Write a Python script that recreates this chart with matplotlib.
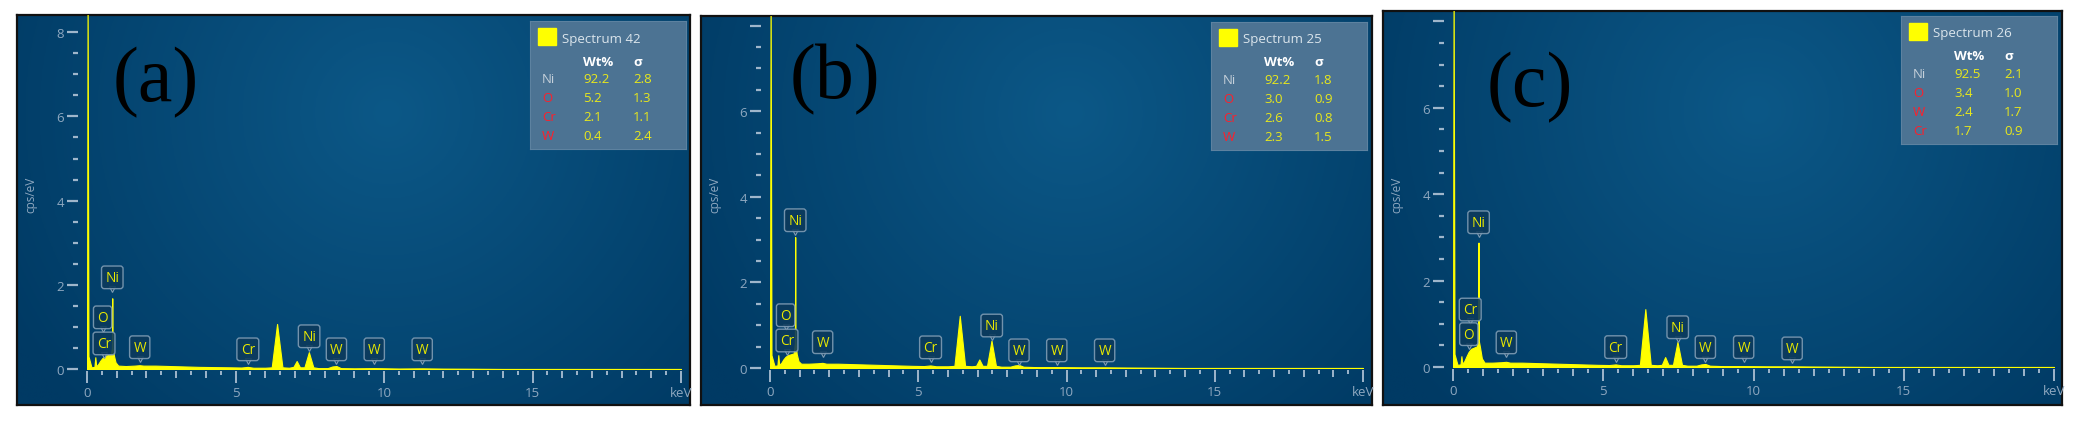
import numpy as np
import matplotlib
matplotlib.use("Agg")
import matplotlib.pyplot as plt
from matplotlib.ticker import FixedLocator, MultipleLocator, FuncFormatter
from matplotlib.patches import Rectangle

# spectrum vertices (keV, cps/eV)
energy_kev = [0.0, 0.02, 0.05, 0.15, 0.25, 0.28, 0.31, 0.38, 0.45, 0.52, 0.6, 0.7, 0.8,
              0.84, 0.85, 0.86, 0.9, 0.96, 1.05, 1.3, 1.6, 1.77, 1.9, 2.3, 2.8, 3.3, 3.8,
              4.3, 4.8, 5.2, 5.41, 5.6, 6.0, 6.22, 6.4, 6.58, 6.8, 6.95, 7.06, 7.17, 7.32,
              7.47, 7.62, 7.8, 8.1, 8.26, 8.4, 8.55, 9.0, 9.67, 10.5, 11.29, 12.0, 13.0,
              14.0, 20.0]
counts_a = [0, 9.0, 0.3, 0.04, 0.05, 0.28, 0.06, 0.12, 0.2, 0.26, 0.31, 0.33, 0.35,
            0.5, 1.68, 0.5, 0.34, 0.16, 0.08, 0.07, 0.08, 0.09, 0.08, 0.08, 0.07, 0.06, 0.05,
            0.045, 0.04, 0.035, 0.05, 0.03, 0.03, 0.04, 1.07, 0.04, 0.03, 0.05, 0.19, 0.04, 0.04,
            0.4, 0.04, 0.02, 0.02, 0.06, 0.07, 0.02, 0.015, 0.02, 0.01, 0.015, 0.008, 0.005,
            0, 0]
counts_b = [0, 9.0, 0.3, 0.05, 0.06, 0.3, 0.07, 0.12, 0.2, 0.26, 0.3, 0.32, 0.34,
            0.6, 3.06, 0.6, 0.33, 0.16, 0.1, 0.1, 0.11, 0.12, 0.1, 0.1, 0.09, 0.08, 0.07,
            0.06, 0.05, 0.045, 0.06, 0.04, 0.04, 0.05, 1.22, 0.05, 0.04, 0.05, 0.2, 0.05, 0.05,
            0.64, 0.05, 0.03, 0.03, 0.06, 0.07, 0.03, 0.02, 0.02, 0.015, 0.015, 0.01, 0.005,
            0, 0]
counts_c = [0, 9.0, 0.3, 0.05, 0.06, 0.25, 0.07, 0.14, 0.25, 0.35, 0.42, 0.45, 0.48,
            0.7, 2.88, 0.6, 0.45, 0.2, 0.1, 0.1, 0.11, 0.12, 0.1, 0.1, 0.09, 0.08, 0.07,
            0.06, 0.05, 0.045, 0.06, 0.04, 0.04, 0.05, 1.34, 0.05, 0.04, 0.05, 0.23, 0.05, 0.05,
            0.58, 0.05, 0.03, 0.03, 0.06, 0.07, 0.03, 0.02, 0.02, 0.015, 0.015, 0.01, 0.005,
            0, 0]

# peak markers: element, line energy, height of the label box
peaks_a = ["O", "Cr", "Ni", "W", "Cr", "Ni", "W", "W", "W"]
peak_e_a = [0.525, 0.573, 0.851, 1.775, 5.415, 7.478, 8.398, 9.672, 11.286]
peak_h_a = [0.95, 0.33, 1.9, 0.24, 0.19, 0.5, 0.19, 0.19, 0.19]
peaks_b = ["O", "Cr", "Ni", "W", "Cr", "Ni", "W", "W", "W"]
peak_e_b = [0.525, 0.573, 0.851, 1.775, 5.415, 7.478, 8.398, 9.672, 11.286]
peak_h_b = [0.96, 0.37, 3.18, 0.33, 0.21, 0.72, 0.14, 0.14, 0.14]
peaks_c = ["Cr", "O", "Ni", "W", "Cr", "Ni", "W", "W", "W"]
peak_e_c = [0.573, 0.525, 0.851, 1.775, 5.415, 7.478, 8.398, 9.672, 11.286]
peak_h_c = [1.06, 0.49, 3.08, 0.30, 0.19, 0.65, 0.19, 0.19, 0.16]

# quantification tables
spectrum_names = ["Spectrum 42", "Spectrum 25", "Spectrum 26"]
elements_a = ["Ni", "O", "Cr", "W"]
wt_a = ["92.2", "5.2", "2.1", "0.4"]
sig_a = ["2.8", "1.3", "1.1", "2.4"]
elements_b = ["Ni", "O", "Cr", "W"]
wt_b = ["92.2", "3.0", "2.6", "2.3"]
sig_b = ["1.8", "0.9", "0.8", "1.5"]
elements_c = ["Ni", "O", "W", "Cr"]
wt_c = ["92.5", "3.4", "2.4", "1.7"]
sig_c = ["2.1", "1.0", "1.7", "0.9"]
panel_tags = ["(a)", "(b)", "(c)"]

W, H = 2080, 427
fig = plt.figure(figsize=(W / 100, H / 100), dpi=100)
fig.patch.set_facecolor("white")

TICK_C = "#9fb6cb"
LABEL_C = "#8fa8c0"
UI_FONT = ["Open Sans", "DejaVu Sans"]


def rect(l, t, r, b):
    return [l / W, 1 - b / H, (r - l) / W, (b - t) / H]


def gradient():
    yy, xx = np.mgrid[0:1:200j, 0:1:300j]
    d = np.sqrt(((xx - 0.55) * 1.7) ** 2 + (yy - 0.25) ** 2)
    k = np.clip(1 - d / 1.1, 0, 1)[..., None]
    inner = np.array([12, 88, 135]) / 255
    outer = np.array([0, 58, 100]) / 255
    return outer + (inner - outer) * k


def draw_panel(frame, x0, x20, y0, yscale, counts, names, energies, heights,
               tag, tag_xy, legend_lt, spec, elems, wt, sig, top_label):
    l, t, r, b = frame
    bg = fig.add_axes(rect(l, t, r, b))
    bg.imshow(gradient(), extent=[0, 1, 0, 1], aspect="auto", origin="upper")
    bg.set_xticks([])
    bg.set_yticks([])
    for s in bg.spines.values():
        s.set_color("#111111")
        s.set_linewidth(1.6)

    ax = fig.add_axes(rect(x0, t, x20, y0))
    ax.patch.set_alpha(0)
    ax.set_xlim(0, 20)
    ax.set_ylim(0, (y0 - t) / yscale)
    ax.fill_between(energy_kev, counts, 0, color="#ffff00", lw=0.8, zorder=2)

    for s in ax.spines.values():
        s.set_visible(False)
    ax.spines["left"].set_position(("outward", 6.5))
    ax.spines["bottom"].set_position(("outward", 1.5))

    ax.xaxis.set_major_locator(FixedLocator(list(range(0, 21))))
    ax.xaxis.set_minor_locator(FixedLocator(list(np.arange(0.5, 20, 1.0))))
    ax.xaxis.set_major_formatter(FuncFormatter(
        lambda v, p: "keV" if round(v) == 20 else (f"{v:.0f}" if round(v) % 5 == 0 else "")))
    ax.yaxis.set_major_locator(FixedLocator([0, 2, 4, 6, 8]))
    ax.yaxis.set_minor_locator(MultipleLocator(0.5))
    ax.yaxis.set_major_formatter(FuncFormatter(
        lambda v, p: ("8" if top_label else "") if round(v) == 8 else f"{v:.0f}"))
    ax.tick_params(axis="x", which="major", length=8.6, width=1.4, color=TICK_C,
                   labelcolor=LABEL_C, labelsize=9.5, pad=2.5)
    ax.tick_params(axis="x", which="minor", length=2.9, width=1.4, color=TICK_C)
    ax.tick_params(axis="y", which="major", length=8, width=1.6, color=TICK_C,
                   labelcolor=LABEL_C, labelsize=9.5, pad=2)
    ax.tick_params(axis="y", which="minor", length=3.6, width=1.6, color=TICK_C)
    for v, tk in zip(range(0, 21), ax.xaxis.get_major_ticks()):
        if v % 5:
            tk.tick1line.set_markersize(5.0)
    for lab in ax.get_xticklabels() + ax.get_yticklabels():
        lab.set_family(UI_FONT)

    fig.text((l + 14) / W, 1 - 195 / H, "cps/eV", rotation=90, color=LABEL_C,
             fontsize=8.5, family=UI_FONT, ha="center", va="center")

    for name, e, h in zip(names, energies, heights):
        ax.plot([e], [h], marker="v", ms=5, mfc="#0c3a5c", mec="#7f9cb4", mew=0.8,
                zorder=4, clip_on=False)
        ax.annotate(name, xy=(e, h), xytext=(0, 3), textcoords="offset points",
                    ha="center", va="bottom", color="#eaea00", fontsize=9.8,
                    family=UI_FONT, zorder=5,
                    bbox=dict(boxstyle="round,pad=0.28,rounding_size=0.2", fc="#0c3a5c",
                              ec="#7f9cb4", lw=1.0, alpha=0.9))

    fig.text(tag_xy[0] / W, 1 - tag_xy[1] / H, tag, fontsize=56, color="black",
             family=["Liberation Serif", "DejaVu Serif"], ha="center", va="center")

    bl, bt = legend_lt
    bw, bh = 156, 128
    lax = fig.add_axes(rect(bl, bt, bl + bw, bt + bh))
    lax.set_xlim(0, bw)
    lax.set_ylim(bh, 0)
    lax.set_facecolor("#4c7393")
    lax.set_xticks([])
    lax.set_yticks([])
    for s in lax.spines.values():
        s.set_color("#5d82a0")
        s.set_linewidth(0.8)
    lax.add_patch(Rectangle((8, 7), 18, 17, color="#ffff00"))
    lax.text(32, 17, spec, color="#dbe5ec", fontsize=9.5, family=UI_FONT, va="center")
    lax.text(53, 40, "Wt%", color="white", fontsize=9.5, family=UI_FONT, va="center",
             weight="bold")
    lax.text(103, 40, "σ", color="white", fontsize=9.5, family=UI_FONT, va="center",
             weight="bold")
    for i, (el, w_, s_) in enumerate(zip(elems, wt, sig)):
        y = 58 + i * 19
        lax.text(12, y, el, color="#c5d0da" if el == "Ni" else "#ff1f2a", fontsize=9.5,
                 family=UI_FONT, va="center")
        lax.text(53, y, w_, color="#e8e81c", fontsize=9.5, family=UI_FONT, va="center")
        lax.text(103, y, s_, color="#e8e81c", fontsize=9.5, family=UI_FONT, va="center")


draw_panel((17, 16, 690, 406), 87, 681, 370, 42.1, counts_a, peaks_a, peak_e_a, peak_h_a,
           panel_tags[0], (156, 83), (530, 22), spectrum_names[0],
           elements_a, wt_a, sig_a, True)
draw_panel((701, 17, 1372, 406), 770, 1363, 369, 42.8, counts_b, peaks_b, peak_e_b, peak_h_b,
           panel_tags[1], (835, 80), (1211, 23), spectrum_names[1],
           elements_b, wt_b, sig_b, False)
draw_panel((1383, 12, 2062, 406), 1453, 2054, 368, 43.2, counts_c, peaks_c, peak_e_c, peak_h_c,
           panel_tags[2], (1530, 88), (1901, 17), spectrum_names[2],
           elements_c, wt_c, sig_c, False)

fig.savefig("out.png", dpi=100)
